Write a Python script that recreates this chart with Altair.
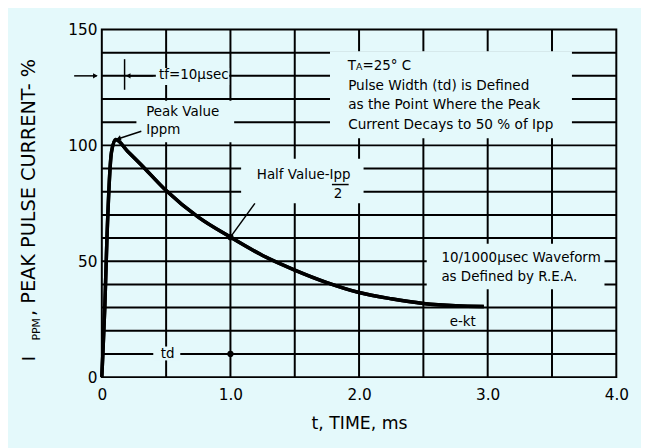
import altair as alt
import pandas as pd

# ---- data ----
t_ms = [0, 0.008, 0.023, 0.04, 0.075, 0.107, 0.2, 0.3, 0.5, 0.75, 1.0, 1.25, 1.5, 1.75, 2.0, 2.25, 2.5, 2.75, 2.97]
current_pct = [0, 10, 30, 60, 97, 102.5, 97.5, 92, 80.5, 69, 60.4, 52.5, 46.2, 40.8, 36.5, 33.8, 31.8, 30.8, 30.5]

x_ticks = [0, 1, 2, 3, 4]
y_ticks = [0, 50, 100, 150]
grid_h = [10, 20, 30, 40, 50, 60, 70, 80, 90, 100, 110, 120, 130, 140]
grid_v = [0.5, 1.0, 1.5, 2.0, 2.5, 3.0, 3.5]

marker_t = [1.0, 1.0]
marker_v = [60.4, 10]

# annotation texts (left aligned, alphabetic baseline)
ann_text = ["tf=10µsec", "Peak Value", "Ippm", "Half Value-Ipp", "2",
            "T", "A", "=25° C",
            "Pulse Width (td) is Defined", "as the Point Where the Peak",
            "Current Decays to 50 % of Ipp",
            "10/1000µsec Waveform", "as Defined by R.E.A.", "e-kt", "td"]
ann_t = [0.445, 0.345, 0.345, 1.205, 1.804,
         1.912, 1.977, 2.027,
         1.915, 1.915, 1.915,
         2.64, 2.64, 2.705, 0.458]
ann_v = [128.7, 112.5, 105.0, 85.65, 77.1,
         132.5, 132.5, 132.5,
         124.0, 115.5, 107.0,
         49.86, 41.3, 22.2, 8.1]
ann_size = [13.6, 13.6, 13.6, 13.6, 13.6,
            13.6, 9.5, 13.6,
            13.8, 13.8, 13.8,
            13.6, 13.6, 13.6, 13.6]

# boxes behind texts that interrupt the grid
mask_t0 = [1.774, 0.42, 0.269, 1.083, 2.526, 0.40]
mask_t1 = [3.655, 0.99, 1.029, 2.035, 3.908, 0.61]
mask_v0 = [103.1, 126.1, 101.4, 75.0, 37.9, 7.2]
mask_v1 = [140.6, 133.4, 119.3, 94.2, 57.5, 13.2]

# leader lines
seg_t0 = [-0.215, 0.177, 0.40, 0.307, 1.19, 1.789]
seg_t1 = [-0.04, 0.177, 0.21, 0.135, 1.0, 1.919]
seg_v0 = [130.0, 137.2, 130.0, 106.1, 75.0, 83.1]
seg_v1 = [130.0, 124.0, 130.0, 103.0, 60.4, 83.1]

# arrow heads
head_t = [-0.05, 0.205, 0.13]
head_v = [130.0, 130.0, 102.9]
head_shape = ["triangle-right", "triangle-left", "triangle-left"]
head_angle = [0, 0, 342]

BG = "#e4f9fb"
FONT = "DejaVu Sans"

xs = alt.Scale(domain=[0, 4], nice=False, zero=False)
ys = alt.Scale(domain=[0, 150], nice=False, zero=False)

x_axis = alt.Axis(values=x_ticks,
                  labelExpr="datum.value == 0 ? '0' : format(datum.value, '.1f')",
                  ticks=False, tickSize=0, domain=False, grid=False,
                  labelFont=FONT, labelFontSize=15.5, labelColor="black",
                  labelPadding=11, labelFlush=False, labelOverlap=False,
                  title="t, TIME, ms", titleFont=FONT, titleFontSize=17.5,
                  titleFontWeight="normal", titleColor="black", titlePadding=12)
y_axis = alt.Axis(values=y_ticks, ticks=False, tickSize=0, domain=False, grid=False,
                  labelFont=FONT, labelFontSize=15.5, labelColor="black",
                  labelPadding=5, labelFlush=False, labelOverlap=False, title=None)

curve_df = pd.DataFrame({"t": t_ms, "v": current_pct})
gh_df = pd.DataFrame({"v": grid_h})
gv_df = pd.DataFrame({"t": grid_v})
mask_df = pd.DataFrame({"t0": mask_t0, "t1": mask_t1, "v0": mask_v0, "v1": mask_v1})
seg_df = pd.DataFrame({"t0": seg_t0, "t1": seg_t1, "v0": seg_v0, "v1": seg_v1})
head_df = pd.DataFrame({"t": head_t, "v": head_v, "shape": head_shape, "angle": head_angle})
ann_df = pd.DataFrame({"t": ann_t, "v": ann_v, "label": ann_text, "size": ann_size})
mark_df = pd.DataFrame({"t": marker_t, "v": marker_v})

# axes carried by the curve layer
curve = alt.Chart(curve_df).mark_line(color="black", strokeWidth=3.5,
                                      interpolate="monotone").encode(
    x=alt.X("t:Q", scale=xs, axis=x_axis), y=alt.Y("v:Q", scale=ys, axis=y_axis))

grid_hz = alt.Chart(gh_df).mark_rule(color="black", strokeWidth=2).encode(
    y=alt.Y("v:Q", scale=ys))
grid_vt = alt.Chart(gv_df).mark_rule(color="black", strokeWidth=2).encode(
    x=alt.X("t:Q", scale=xs))

masks = alt.Chart(mask_df).mark_rect(fill=BG).encode(
    x=alt.X("t0:Q", scale=xs), x2="t1",
    y=alt.Y("v0:Q", scale=ys), y2="v1")

segs = alt.Chart(seg_df).mark_rule(color="black", strokeWidth=1.5).encode(
    x=alt.X("t0:Q", scale=xs), x2="t1",
    y=alt.Y("v0:Q", scale=ys), y2="v1")

heads = alt.Chart(head_df).mark_point(filled=True, color="black", size=30, opacity=1).encode(
    x=alt.X("t:Q", scale=xs), y=alt.Y("v:Q", scale=ys),
    shape=alt.Shape("shape:N", scale=None), angle=alt.Angle("angle:Q", scale=None))

dots = alt.Chart(mark_df).mark_circle(color="black", size=40, opacity=1).encode(
    x=alt.X("t:Q", scale=xs), y=alt.Y("v:Q", scale=ys))

texts = alt.Chart(ann_df).mark_text(align="left", baseline="alphabetic", font=FONT,
                                    color="black").encode(
    x=alt.X("t:Q", scale=xs), y=alt.Y("v:Q", scale=ys),
    text="label:N", size=alt.Size("size:Q", scale=None))

# y axis title with subscript, drawn as rotated text (pixel offsets from plot origin)
def ytitle_piece(label, px, py, fs):
    return alt.Chart(pd.DataFrame({"label": [label]})).mark_text(
        align="left", baseline="alphabetic", angle=270, font=FONT,
        color="black", fontSize=fs).encode(
        x=alt.value(px), y=alt.value(py), text="label:N")

yt1 = ytitle_piece("I", -68, 336, 18)
yt2 = ytitle_piece("PPM", -63, 315, 11)
yt3 = ytitle_piece(", PEAK  PULSE  CURRENT-  %", -68, 290, 19.5)

chart = alt.layer(curve, grid_hz, grid_vt, masks, curve, segs, heads, dots, texts,
                  yt1, yt2, yt3).properties(
    width=521, height=352, background=BG,
    padding={"left": 95, "top": 19, "right": 25, "bottom": 69},
    autosize=alt.AutoSizeParams(type="none"),
).configure_view(stroke="black", strokeWidth=2)

chart.save("out.html", embed_options={"renderer": "svg", "actions": False})
